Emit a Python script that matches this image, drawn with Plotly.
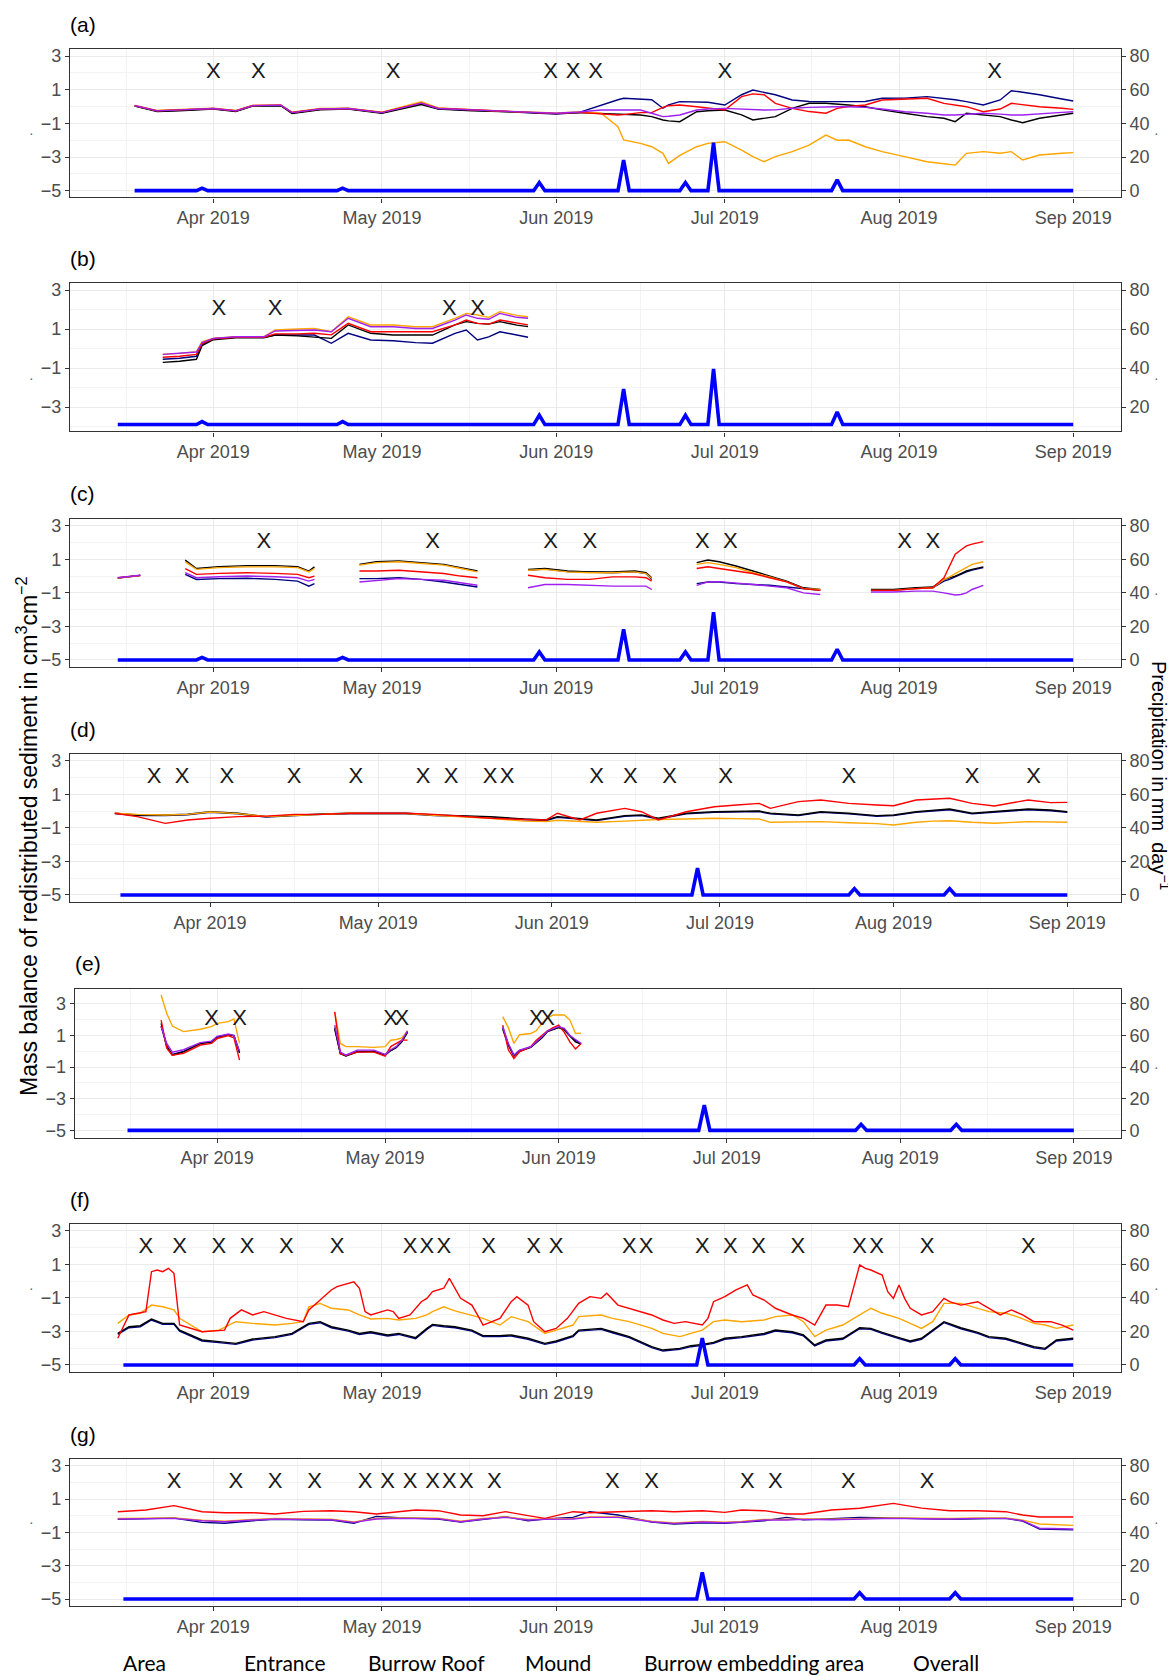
import plotly.graph_objects as go

# The page body adds an 8px margin, so the figure is drawn 8px in from the top-left.
OFF = 8
FW, FH = 1168, 1668
FONT = "Liberation Sans, Arial, Helvetica, sans-serif"
TICK_COL = "#4D4D4D"
BORDER = "#333333"
GRID = "#EBEBEB"
GRID_MINOR = "#F3F3F3"


def fx(px):
    return (px - OFF) / FW


def fy(py):
    return 1 - (py - OFF) / FH


# ---------------- categories / labels ----------------
legend_words = ["Area", "Entrance", "Burrow Roof", "Mound", "Burrow embedding area", "Overall"]
panel_labels = ["(a)", "(b)", "(c)", "(d)", "(e)", "(f)", "(g)"]
month_ticks = ["2019-04-01", "2019-05-01", "2019-06-01", "2019-07-01", "2019-08-01", "2019-09-01"]
month_labels = ["Apr 2019", "May 2019", "Jun 2019", "Jul 2019", "Aug 2019", "Sep 2019"]
month_minor = ["2019-03-16 12:00", "2019-04-16", "2019-05-16 12:00", "2019-06-16",
               "2019-07-16 12:00", "2019-08-16 12:00"]
sed_ticks = [-5, -3, -1, 1, 3]
sed_minor = [-4, -2, 0, 2]
prec_ticks = [0, 20, 40, 60, 80]
COLOR = {"black": "#000000", "orange": "#FFA500", "red": "#FF0000",
         "purple": "#A020F0", "navy": "#000080"}
DRAW_ORDER = ["navy", "black", "orange", "red", "purple"]
MARK_LEVEL = 2

# ---------------- precipitation (mm/day) ----------------
p1_dates = ["2019-03-15", "2019-03-29", "2019-03-30", "2019-03-31", "2019-04-23", "2019-04-24",
            "2019-04-25", "2019-05-28", "2019-05-29", "2019-05-30", "2019-06-12", "2019-06-13",
            "2019-06-14", "2019-06-23", "2019-06-24", "2019-06-25", "2019-06-28", "2019-06-29",
            "2019-06-30", "2019-07-20", "2019-07-21", "2019-07-22", "2019-09-01"]
p1_vals = [0, 0, 1.5, 0, 0, 1.5, 0, 0, 4.8, 0, 0, 18.2, 0, 0, 4.8, 0, 0, 28.5, 0, 0, 6.4, 0, 0]
P1_START_A = "2019-03-18"
p2_dates = ["2019-03-16", "2019-06-26", "2019-06-27", "2019-06-28", "2019-07-24", "2019-07-25",
            "2019-07-26", "2019-08-10", "2019-08-11", "2019-08-12", "2019-09-01"]
p2_vals = [0, 0, 16, 0, 0, 3.8, 0, 0, 3.8, 0, 0]

# ---------------- panel (a) ----------------
a_dates = ["2019-03-18", "2019-03-22", "2019-03-26", "2019-04-01", "2019-04-05", "2019-04-08",
           "2019-04-13", "2019-04-15", "2019-04-20", "2019-04-25", "2019-05-01", "2019-05-05",
           "2019-05-08", "2019-05-11", "2019-05-17", "2019-05-24", "2019-06-01", "2019-06-05",
           "2019-06-09", "2019-06-12", "2019-06-13", "2019-06-16", "2019-06-18", "2019-06-20",
           "2019-06-21", "2019-06-23", "2019-06-26", "2019-06-28", "2019-07-01", "2019-07-04",
           "2019-07-06", "2019-07-08", "2019-07-10", "2019-07-13", "2019-07-16", "2019-07-19",
           "2019-07-21", "2019-07-23", "2019-07-26", "2019-07-29", "2019-08-02", "2019-08-06",
           "2019-08-09", "2019-08-11", "2019-08-13", "2019-08-16", "2019-08-19", "2019-08-21",
           "2019-08-23", "2019-08-26", "2019-08-30", "2019-09-01"]
a_black = [0.02, -0.3, -0.25, -0.15, -0.3, 0.02, 0.05, -0.42, -0.2, -0.15, -0.4, -0.1, 0.12, -0.15,
           -0.25, -0.32, -0.42, -0.36,
           -0.4, -0.45, -0.45, -0.5, -0.6, -0.8, -0.85, -0.9, -0.31, -0.25, -0.21, -0.5, -0.8, -0.7,
           -0.6, -0.11, 0.19, 0.19, 0.12, 0.09, -0.01, -0.2, -0.4, -0.6, -0.7, -0.9, -0.4, -0.5, -0.6,
           -0.8, -0.96, -0.7, -0.5, -0.4]
a_orange = [0.05, -0.24, -0.18, -0.1, -0.24, 0.06, 0.1, -0.34, -0.12, -0.1, -0.34, 0.0, 0.28, -0.08,
            -0.2, -0.3, -0.38, -0.33,
            -0.4, -1.2, -1.99, -2.19, -2.39, -2.78, -3.38, -2.9, -2.39, -2.19, -2.09, -2.59, -2.98,
            -3.28, -2.98, -2.68, -2.29, -1.7, -2.0, -1.99, -2.39, -2.68, -2.98, -3.28, -3.4, -3.48,
            -2.78, -2.68, -2.78, -2.68, -3.18, -2.88, -2.78, -2.74]
a_red = [0.06, -0.25, -0.2, -0.12, -0.25, 0.06, 0.08, -0.35, -0.15, -0.12, -0.35, -0.05, 0.2, -0.1,
         -0.2, -0.32, -0.42, -0.35,
         -0.45, -0.5, -0.48, -0.36, -0.36, -0.05, 0.05, 0.09, -0.01, -0.1, -0.21, 0.59, 0.75, 0.7,
         0.19, -0.11, -0.3, -0.4, -0.11, 0.0, 0.09, 0.39, 0.45, 0.49, 0.19, 0.1, -0.01, -0.31, -0.15,
         0.19, 0.1, -0.01, -0.1, -0.17]
a_purple = [0.05, -0.26, -0.2, -0.12, -0.26, 0.05, 0.08, -0.36, -0.15, -0.12, -0.36, -0.05, 0.2,
            -0.12, -0.2, -0.3, -0.4, -0.33,
            -0.21, -0.21, -0.21, -0.21, -0.4, -0.6, -0.58, -0.5, -0.21, -0.15, -0.11, -0.15, -0.2,
            -0.21, -0.2, -0.1, -0.05, -0.01, -0.01, -0.01, -0.05, -0.15, -0.31, -0.4, -0.5, -0.5,
            -0.45, -0.4, -0.45, -0.5, -0.5, -0.42, -0.35, -0.31]
a_navy = [0.04, -0.27, -0.22, -0.13, -0.27, 0.04, 0.07, -0.38, -0.17, -0.13, -0.37, -0.06, 0.18,
          -0.13, -0.22, -0.33, -0.44, -0.36,
          0.1, 0.4, 0.49, 0.45, 0.4, -0.1, 0.1, 0.29, 0.29, 0.25, 0.09, 0.7, 0.98, 0.85, 0.7, 0.39,
          0.3, 0.29, 0.3, 0.29, 0.3, 0.49, 0.5, 0.59, 0.49, 0.4, 0.29, 0.09, 0.39, 0.94, 0.85, 0.7,
          0.45, 0.33]
a_marks = ["2019-04-01", "2019-04-09", "2019-05-03", "2019-05-31", "2019-06-04", "2019-06-08",
           "2019-07-01", "2019-08-18"]

# ---------------- panel (b) ----------------
b_dates = ["2019-03-23", "2019-03-26", "2019-03-29", "2019-03-30", "2019-04-01", "2019-04-05",
           "2019-04-10", "2019-04-12", "2019-04-16", "2019-04-19", "2019-04-22", "2019-04-25",
           "2019-04-29", "2019-05-03", "2019-05-07", "2019-05-10", "2019-05-14", "2019-05-16",
           "2019-05-18", "2019-05-20", "2019-05-22", "2019-05-25", "2019-05-27"]
b_orange = [-0.30, -0.25, -0.16, 0.35, 0.52, 0.61, 0.61, 0.95, 1.0, 1.03, 0.86, 1.63, 1.21, 1.21,
            1.12, 1.12, 1.55, 1.80, 1.72, 1.6, 1.89, 1.7, 1.63]
b_purple = [-0.30, -0.25, -0.18, 0.3, 0.52, 0.6, 0.6, 0.9, 0.95, 0.95, 0.86, 1.55, 1.12, 1.12, 1.03,
            1.03, 1.46, 1.72, 1.55, 1.5, 1.80, 1.6, 1.55]
b_red = [-0.45, -0.4, -0.3, 0.25, 0.5, 0.58, 0.58, 0.75, 0.75, 0.78, 0.7, 1.29, 0.86, 0.86, 0.86,
         0.86, 1.21, 1.46, 1.29, 1.25, 1.46, 1.3, 1.21]
b_black = [-0.71, -0.65, -0.55, 0.15, 0.45, 0.55, 0.55, 0.69, 0.65, 0.6, 0.52, 1.21, 0.78, 0.69,
           0.69, 0.69, 1.21, 1.38, 1.29, 1.25, 1.38, 1.2, 1.12]
b_navy = [-0.55, -0.5, -0.4, 0.2, 0.5, 0.58, 0.58, 0.69, 0.69, 0.69, 0.27, 0.78, 0.44, 0.40, 0.30,
          0.27, 0.78, 0.95, 0.44, 0.6, 0.86, 0.7, 0.58]
b_marks = ["2019-04-02", "2019-04-12", "2019-05-13", "2019-05-18"]
B_PRECIP_BASE = -3.9

# ---------------- panel (c) (gapped segments) ----------------
c_dates = [["2019-03-15", "2019-03-19"],
           ["2019-03-27", "2019-03-29", "2019-04-02", "2019-04-07", "2019-04-12", "2019-04-16",
            "2019-04-18", "2019-04-19"],
           ["2019-04-27", "2019-04-30", "2019-05-04", "2019-05-08", "2019-05-12", "2019-05-15",
            "2019-05-18"],
           ["2019-05-27", "2019-05-30", "2019-06-03", "2019-06-07", "2019-06-11", "2019-06-15",
            "2019-06-17", "2019-06-18"],
           ["2019-06-26", "2019-06-28", "2019-06-30", "2019-07-03", "2019-07-06", "2019-07-09",
            "2019-07-12", "2019-07-15", "2019-07-18"],
           ["2019-07-27", "2019-07-31", "2019-08-04", "2019-08-07", "2019-08-09", "2019-08-10",
            "2019-08-11", "2019-08-12", "2019-08-13", "2019-08-14", "2019-08-16"]]
c_black = [[-0.12, 0.03], [0.95, 0.45, 0.56, 0.62, 0.62, 0.56, 0.3, 0.55],
           [0.7, 0.85, 0.9, 0.8, 0.7, 0.5, 0.3], [0.4, 0.45, 0.3, 0.25, 0.25, 0.3, 0.2, -0.1],
           [0.8, 0.96, 0.85, 0.6, 0.3, 0.0, -0.3, -0.7, -0.8],
           [-0.8, -0.8, -0.7, -0.65, -0.2, -0.1, 0.0, 0.15, 0.3, 0.4, 0.55]]
c_orange = [[-0.12, 0.03], [0.85, 0.4, 0.5, 0.55, 0.55, 0.5, 0.25, 0.45],
            [0.65, 0.8, 0.85, 0.75, 0.65, 0.45, 0.25], [0.35, 0.4, 0.25, 0.2, 0.2, 0.25, 0.15, -0.15],
            [0.7, 0.8, 0.7, 0.5, 0.2, -0.05, -0.35, -0.75, -0.8],
            [-0.85, -0.85, -0.75, -0.7, -0.2, -0.05, 0.15, 0.35, 0.55, 0.7, 0.85]]
c_red = [[-0.1, 0.04], [0.45, 0.1, 0.16, 0.2, 0.16, 0.1, -0.1, 0.0],
         [0.3, 0.3, 0.35, 0.25, 0.15, 0.0, -0.1], [0.05, -0.1, -0.2, -0.2, -0.05, -0.05, -0.1, -0.3],
         [0.45, 0.55, 0.45, 0.3, 0.15, -0.1, -0.35, -0.75, -0.85],
         [-0.85, -0.85, -0.75, -0.7, -0.1, 0.6, 1.3, 1.55, 1.8, 1.9, 2.05]]
c_purple = [[-0.1, 0.05], [0.2, -0.1, -0.04, 0.0, -0.04, -0.1, -0.3, -0.2],
            [-0.35, -0.25, -0.15, -0.2, -0.25, -0.4, -0.55],
            [-0.7, -0.5, -0.5, -0.55, -0.6, -0.6, -0.6, -0.8],
            [-0.55, -0.35, -0.33, -0.4, -0.5, -0.6, -0.7, -1.0, -1.1],
            [-0.95, -0.95, -0.9, -0.9, -1.0, -1.05, -1.13, -1.1, -1.0, -0.8, -0.55]]
c_navy = [[-0.11, 0.04], [0.1, -0.2, -0.15, -0.13, -0.2, -0.3, -0.6, -0.45],
          [-0.15, -0.15, -0.1, -0.2, -0.35, -0.5, -0.65],
          [0.35, 0.42, 0.27, 0.22, 0.2, 0.25, 0.15, -0.2],
          [-0.45, -0.35, -0.35, -0.45, -0.5, -0.55, -0.65, -0.75, -0.85],
          [-0.85, -0.85, -0.75, -0.7, -0.3, -0.2, -0.05, 0.1, 0.25, 0.35, 0.5]]
c_marks = ["2019-04-10", "2019-05-10", "2019-05-31", "2019-06-07", "2019-06-27", "2019-07-02",
           "2019-08-02", "2019-08-07"]

# ---------------- panel (d) ----------------
d_dates = ["2019-03-15", "2019-03-19", "2019-03-24", "2019-03-28", "2019-04-01", "2019-04-06",
           "2019-04-11", "2019-04-16", "2019-04-21", "2019-04-26", "2019-05-01", "2019-05-06",
           "2019-05-11", "2019-05-16", "2019-05-21", "2019-05-27", "2019-05-31", "2019-06-02",
           "2019-06-06", "2019-06-09", "2019-06-14", "2019-06-17", "2019-06-20", "2019-06-25",
           "2019-06-30", "2019-07-04", "2019-07-08", "2019-07-10", "2019-07-15", "2019-07-19",
           "2019-07-24", "2019-07-29", "2019-08-01", "2019-08-05", "2019-08-08", "2019-08-11",
           "2019-08-15", "2019-08-19", "2019-08-25", "2019-08-29", "2019-09-01"]
d_black = [-0.13, -0.23, -0.23, -0.19, -0.04, -0.13, -0.33, -0.23, -0.17, -0.13, -0.13, -0.13,
           -0.23, -0.27, -0.33, -0.47, -0.53, -0.33, -0.47, -0.53, -0.27, -0.23, -0.43, -0.13,
           -0.04, 0.0, 0.0, -0.13, -0.23, -0.04, -0.13, -0.27, -0.23, -0.04, 0.06, 0.12, -0.13,
           -0.04, 0.12, 0.06, -0.04]
d_navy = [-0.15, -0.26, -0.27, -0.22, -0.08, -0.17, -0.36, -0.27, -0.2, -0.17, -0.16, -0.17, -0.26,
          -0.31, -0.37, -0.5, -0.57, -0.37, -0.5, -0.57, -0.31, -0.27, -0.47, -0.17, -0.08, -0.04,
          -0.03, -0.17, -0.27, -0.08, -0.17, -0.31, -0.27, -0.08, 0.02, 0.08, -0.17, -0.08, 0.08,
          0.02, -0.08]
d_red = [-0.13, -0.33, -0.73, -0.53, -0.43, -0.33, -0.3, -0.2, -0.2, -0.13, -0.13, -0.13, -0.2,
         -0.3, -0.43, -0.5, -0.53, -0.13, -0.53, -0.13, 0.16, -0.04, -0.53, -0.04, 0.26, 0.36, 0.46,
         0.16, 0.56, 0.66, 0.46, 0.36, 0.32, 0.66, 0.7, 0.76, 0.46, 0.3, 0.66, 0.5, 0.52]
d_orange = [-0.13, -0.2, -0.23, -0.2, -0.06, -0.15, -0.33, -0.25, -0.18, -0.13, -0.15, -0.15, -0.25,
            -0.35, -0.43, -0.6, -0.63, -0.55, -0.63, -0.67, -0.6, -0.55, -0.5, -0.47, -0.43, -0.45,
            -0.47, -0.67, -0.63, -0.63, -0.7, -0.75, -0.83, -0.67, -0.6, -0.58, -0.67, -0.73, -0.63,
            -0.65, -0.67]
d_marks = ["2019-03-22", "2019-03-27", "2019-04-04", "2019-04-16", "2019-04-27", "2019-05-09",
           "2019-05-14", "2019-05-21", "2019-05-24", "2019-06-09", "2019-06-15", "2019-06-22",
           "2019-07-02", "2019-07-24", "2019-08-15", "2019-08-26"]

# ---------------- panel (e) (gapped segments) ----------------
e_dates = [["2019-03-22", "2019-03-23", "2019-03-24", "2019-03-26", "2019-03-29", "2019-03-31",
            "2019-04-01", "2019-04-03", "2019-04-04", "2019-04-05"],
           ["2019-04-22", "2019-04-23", "2019-04-24", "2019-04-26", "2019-04-29", "2019-05-01",
            "2019-05-02", "2019-05-03", "2019-05-04", "2019-05-05"],
           ["2019-05-22", "2019-05-23", "2019-05-24", "2019-05-25", "2019-05-27", "2019-05-28",
            "2019-05-29", "2019-05-30", "2019-05-31", "2019-06-01", "2019-06-02", "2019-06-03",
            "2019-06-04", "2019-06-05"]]
e_orange = [[3.56, 2.4, 1.6, 1.25, 1.4, 1.56, 1.77, 1.88, 2.05, 0.5],
            [2.5, 0.5, 0.3, 0.3, 0.25, 0.3, 0.7, 0.75, 0.85, 1.3],
            [2.2, 1.5, 0.5, 1.05, 1.13, 1.3, 1.77, 2.1, 2.3, 2.3, 2.3, 1.98, 1.13, 1.15]]
e_purple = [[1.55, 0.5, -0.05, 0.1, 0.55, 0.65, 0.95, 1.1, 1.0, 0.0],
            [1.66, -0.05, -0.24, 0.08, 0.08, -0.2, 0.1, 0.3, 0.7, 1.3],
            [1.56, 0.5, -0.24, 0.08, 0.29, 0.6, 0.92, 1.3, 1.45, 1.56, 1.45, 1.0, 0.75, 0.5]]
e_black = [[1.77, 0.29, -0.24, -0.03, 0.5, 0.6, 0.92, 1.05, 1.0, -0.1],
           [1.4, -0.15, -0.3, -0.05, 0.0, -0.25, 0.05, 0.25, 0.6, 1.2],
           [1.4, 0.4, -0.3, 0.0, 0.25, 0.55, 0.85, 1.25, 1.4, 1.5, 1.35, 0.95, 0.6, 0.45]]
e_red = [[1.98, 0.2, -0.24, -0.13, 0.4, 0.5, 0.8, 1.0, 0.85, -0.56],
         [2.5, -0.15, -0.25, -0.05, -0.05, -0.3, 0.3, 0.5, 0.71, 0.71],
         [1.66, 0.1, -0.45, -0.03, 0.29, 0.7, 1.0, 1.3, 1.5, 1.66, 1.2, 0.6, 0.15, 0.5]]
e_navy = [[1.6, 0.35, -0.2, 0.0, 0.5, 0.6, 0.9, 1.05, 1.0, -0.05],
          [1.5, -0.1, -0.28, 0.0, 0.0, -0.22, 0.05, 0.25, 0.65, 1.25],
          [1.5, 0.45, -0.26, 0.05, 0.27, 0.58, 0.9, 1.28, 1.43, 1.53, 1.4, 0.98, 0.7, 0.48]]
e_marks = ["2019-03-31", "2019-04-05", "2019-05-02", "2019-05-04", "2019-05-28", "2019-05-30"]

# ---------------- panel (f) ----------------
f_red_dates = ["2019-03-15", "2019-03-17", "2019-03-20", "2019-03-21", "2019-03-22", "2019-03-23",
               "2019-03-24", "2019-03-25", "2019-03-26", "2019-03-28", "2019-03-30", "2019-04-03",
               "2019-04-04", "2019-04-06", "2019-04-08", "2019-04-10", "2019-04-12", "2019-04-14",
               "2019-04-17", "2019-04-18", "2019-04-20", "2019-04-22", "2019-04-23", "2019-04-26",
               "2019-04-27", "2019-04-28", "2019-04-29", "2019-05-02", "2019-05-03", "2019-05-04",
               "2019-05-06", "2019-05-08", "2019-05-09", "2019-05-10", "2019-05-12", "2019-05-13",
               "2019-05-15", "2019-05-17", "2019-05-18", "2019-05-19", "2019-05-22", "2019-05-24",
               "2019-05-25", "2019-05-27", "2019-05-28", "2019-05-30", "2019-06-01", "2019-06-03",
               "2019-06-05", "2019-06-07", "2019-06-09", "2019-06-10", "2019-06-12", "2019-06-14",
               "2019-06-16", "2019-06-18", "2019-06-20", "2019-06-22", "2019-06-24", "2019-06-27",
               "2019-06-28", "2019-06-29", "2019-07-01", "2019-07-03", "2019-07-05", "2019-07-06",
               "2019-07-08", "2019-07-10", "2019-07-13", "2019-07-15", "2019-07-17", "2019-07-19",
               "2019-07-21", "2019-07-23", "2019-07-25", "2019-07-26", "2019-07-27", "2019-07-29",
               "2019-07-30", "2019-07-31", "2019-08-01", "2019-08-02", "2019-08-03", "2019-08-05",
               "2019-08-07", "2019-08-09", "2019-08-10", "2019-08-12", "2019-08-15", "2019-08-17",
               "2019-08-19", "2019-08-21", "2019-08-23", "2019-08-25", "2019-08-28", "2019-08-30",
               "2019-09-01"]
f_red = [-3.41, -2.02, -1.82, 0.56, 0.66, 0.56, 0.76, 0.46, -2.62, -2.82, -3.02, -2.92,
         -2.22, -1.72, -2.02, -1.82, -2.02, -2.22, -2.42, -1.72, -1.13, -0.53, -0.33, -0.04,
         -0.43, -1.82, -2.02, -1.72, -1.82, -2.22, -2.02, -1.23, -1.03, -0.63, -0.43, 0.16,
         -1.03, -1.43, -2.02, -2.62, -2.22, -1.23, -0.93, -1.43, -2.42, -3.02, -2.82, -2.22,
         -1.33, -0.93, -1.03, -0.73, -1.43, -1.62, -1.82, -2.02, -2.32, -2.52, -2.42, -2.62,
         -2.22, -1.23, -0.93, -0.53, -0.23, -0.83, -1.13, -1.62, -2.02, -2.22, -2.62, -1.43,
         -1.43, -1.53, 0.96, 0.76, 0.66, 0.36, -0.63, -1.03, -0.23, -1.03, -1.62, -2.02,
         -1.82, -1.03, -1.23, -1.43, -1.23, -1.62, -2.02, -1.72, -2.02, -2.42, -2.42, -2.62,
         -2.92]
f_dates = ["2019-03-15", "2019-03-17", "2019-03-19", "2019-03-21", "2019-03-23", "2019-03-25",
           "2019-03-26", "2019-03-30", "2019-04-02", "2019-04-05", "2019-04-08", "2019-04-12",
           "2019-04-15", "2019-04-17", "2019-04-18", "2019-04-20", "2019-04-22", "2019-04-25",
           "2019-04-27", "2019-04-29", "2019-05-02", "2019-05-04", "2019-05-07", "2019-05-09",
           "2019-05-10", "2019-05-12", "2019-05-14", "2019-05-17", "2019-05-19", "2019-05-22",
           "2019-05-24", "2019-05-27", "2019-05-30", "2019-06-01", "2019-06-04", "2019-06-05",
           "2019-06-09", "2019-06-11", "2019-06-14", "2019-06-18", "2019-06-20", "2019-06-23",
           "2019-06-25", "2019-06-27", "2019-06-29", "2019-07-01", "2019-07-04", "2019-07-08",
           "2019-07-10", "2019-07-13", "2019-07-15", "2019-07-17", "2019-07-19", "2019-07-22",
           "2019-07-25", "2019-07-27", "2019-07-29", "2019-08-01", "2019-08-03", "2019-08-05",
           "2019-08-07", "2019-08-09", "2019-08-12", "2019-08-15", "2019-08-17", "2019-08-20",
           "2019-08-22", "2019-08-25", "2019-08-27", "2019-08-29", "2019-09-01"]
f_orange = [-2.52, -2.02, -1.92, -1.43, -1.53, -1.72, -2.22, -3.02,
            -2.92, -2.42, -2.52, -2.62, -2.52, -2.42, -1.53, -1.33, -1.62, -1.72, -2.02, -2.26,
            -2.22, -2.32, -2.22, -2.02, -1.82, -1.53, -1.78, -2.02, -2.22, -2.62, -2.12, -2.42,
            -3.12,
            -2.92, -2.62, -2.12, -2.02, -2.22, -2.42, -2.82, -3.12, -3.31, -3.12, -2.92, -2.42,
            -2.32, -2.42, -2.32, -2.12, -2.02, -2.42, -3.31, -2.92, -2.62, -2.02, -1.62, -1.92,
            -2.22, -2.52, -2.82, -2.42, -1.33, -1.33, -1.62, -1.82, -1.92, -2.12, -2.52, -2.62,
            -2.82,
            -2.62]
f_black = [-3.12, -2.72, -2.66, -2.26, -2.52, -2.52, -2.92, -3.51,
           -3.61, -3.71, -3.45, -3.31, -3.12, -2.72, -2.52, -2.42, -2.72, -2.92, -3.12, -3.02,
           -3.21, -3.12, -3.37, -2.82, -2.58, -2.66, -2.72, -2.92, -3.25, -3.25, -3.21, -3.41,
           -3.71,
           -3.57, -3.25, -2.92, -2.82, -3.02, -3.31, -3.91, -4.11, -4.01, -3.85, -3.77, -3.65,
           -3.41, -3.31, -3.12, -2.92, -3.02, -3.21, -3.81, -3.51, -3.41, -2.78, -2.82, -3.06,
           -3.37, -3.57, -3.41, -2.92, -2.42, -2.78, -3.06, -3.31, -3.41, -3.61, -3.91, -4.01,
           -3.51,
           -3.41]
f_navy = [-3.18, -2.78, -2.72, -2.32, -2.58, -2.58, -2.98, -3.57,
          -3.67, -3.77, -3.51, -3.37, -3.18, -2.78, -2.58, -2.48, -2.78, -2.98, -3.18, -3.08,
          -3.27, -3.18, -3.43, -2.88, -2.64, -2.72, -2.78, -2.98, -3.31, -3.31, -3.27, -3.47,
          -3.77,
          -3.63, -3.31, -2.98, -2.88, -3.08, -3.37, -3.97, -4.17, -4.07, -3.91, -3.83, -3.71,
          -3.47, -3.37, -3.18, -2.98, -3.08, -3.27, -3.87, -3.57, -3.47, -2.84, -2.88, -3.12,
          -3.43, -3.63, -3.47, -2.98, -2.48, -2.84, -3.12, -3.37, -3.47, -3.67, -3.97, -4.07,
          -3.57,
          -3.47]
f_marks = ["2019-03-20", "2019-03-26", "2019-04-02", "2019-04-07", "2019-04-14", "2019-04-23",
           "2019-05-06", "2019-05-09", "2019-05-12", "2019-05-20", "2019-05-28", "2019-06-01",
           "2019-06-14", "2019-06-17", "2019-06-27", "2019-07-02", "2019-07-07", "2019-07-14",
           "2019-07-25", "2019-07-28", "2019-08-06", "2019-08-24"]

# ---------------- panel (g) ----------------
g_dates = ["2019-03-15", "2019-03-20", "2019-03-25", "2019-03-30", "2019-04-03", "2019-04-08",
           "2019-04-12", "2019-04-17", "2019-04-22", "2019-04-26", "2019-04-30", "2019-05-04",
           "2019-05-07", "2019-05-11", "2019-05-15", "2019-05-19", "2019-05-23", "2019-05-27",
           "2019-05-30", "2019-06-04", "2019-06-07", "2019-06-12", "2019-06-18", "2019-06-22",
           "2019-06-27", "2019-07-01", "2019-07-04", "2019-07-08", "2019-07-12", "2019-07-15",
           "2019-07-20", "2019-07-25", "2019-07-31", "2019-08-05", "2019-08-10", "2019-08-15",
           "2019-08-20", "2019-08-23", "2019-08-26", "2019-09-01"]
g_red = [0.24, 0.34, 0.6, 0.24, 0.18, 0.18, 0.1, 0.26, 0.3, 0.24, 0.1, 0.26, 0.34, 0.3, 0.04, 0.0,
         0.24, 0.0, -0.16, 0.24, 0.18, 0.24, 0.3, 0.24, 0.3, 0.2, 0.34, 0.3, 0.1, 0.1, 0.34, 0.45,
         0.74, 0.45, 0.3, 0.3, 0.24, 0.04, -0.08, -0.08]
g_purple = [-0.2, -0.18, -0.16, -0.3, -0.36, -0.26, -0.2, -0.22, -0.24, -0.4, -0.2, -0.16, -0.16,
            -0.18, -0.36, -0.2, -0.1, -0.26, -0.22, -0.2, -0.1, -0.1, -0.36, -0.46, -0.38, -0.42,
            -0.38, -0.26, -0.26, -0.22, -0.24, -0.2, -0.16, -0.18, -0.2, -0.16, -0.16, -0.3,
            -0.75, -0.8]
g_orange = [-0.17, -0.15, -0.13, -0.27, -0.33, -0.23, -0.17, -0.19, -0.21, -0.37, -0.17, -0.13,
            -0.13, -0.15, -0.33, -0.17, -0.07, -0.23, -0.19, -0.17, -0.07, -0.07, -0.33, -0.43,
            -0.35, -0.39, -0.35, -0.23, -0.23, -0.19, -0.21, -0.17, -0.13, -0.15, -0.17, -0.13,
            -0.13, -0.27, -0.5, -0.58]
g_navy = [-0.22, -0.2, -0.14, -0.4, -0.45, -0.3, -0.22, -0.24, -0.26, -0.45, -0.04, -0.12, -0.16,
          -0.2, -0.38, -0.22, -0.06, -0.3, -0.2, -0.1, 0.24, 0.04, -0.38, -0.5, -0.42, -0.46, -0.4,
          -0.3, -0.1, -0.24, -0.18, -0.1, -0.14, -0.2, -0.22, -0.18, -0.16, -0.32, -0.8, -0.85]
g_marks = ["2019-03-25", "2019-04-05", "2019-04-12", "2019-04-19", "2019-04-28", "2019-05-02",
           "2019-05-06", "2019-05-10", "2019-05-13", "2019-05-16", "2019-05-21", "2019-06-11",
           "2019-06-18", "2019-07-05", "2019-07-10", "2019-07-23", "2019-08-06"]


def join_segments(date_segs, val_segs):
    xs, ys = [], []
    for k, (d, v) in enumerate(zip(date_segs, val_segs)):
        if k:
            xs.append(None)
            ys.append(None)
        xs += d
        ys += v
    return xs, ys


pa_x = [P1_START_A] + [d for d in p1_dates if d > P1_START_A]
pa_y = [0.0] + [v for d, v in zip(p1_dates, p1_vals) if d > P1_START_A]

XR_STD = ["2019-03-06 12:00", "2019-09-09 12:00"]
panels = [
    dict(top=49.3, bottom=197.4, left=70, xr=XR_STD, yr=[-5.4, 3.4], base=-5,
         series={"black": (a_dates, a_black), "orange": (a_dates, a_orange), "red": (a_dates, a_red),
                 "purple": (a_dates, a_purple), "navy": (a_dates, a_navy)},
         marks=a_marks, precip=(pa_x, pa_y), ldot=True, rdot=True),
    dict(top=283.2, bottom=431.4, left=70, xr=XR_STD, yr=[-4.25, 3.35], base=B_PRECIP_BASE,
         series={"black": (b_dates, b_black), "orange": (b_dates, b_orange), "red": (b_dates, b_red),
                 "purple": (b_dates, b_purple), "navy": (b_dates, b_navy)},
         marks=b_marks, precip=(p1_dates, p1_vals), ldot=True, rdot=True),
    dict(top=519.0, bottom=666.7, left=70, xr=XR_STD, yr=[-5.4, 3.4], base=-5,
         series={k: join_segments(c_dates, v) for k, v in
                 {"black": c_black, "orange": c_orange, "red": c_red,
                  "purple": c_purple, "navy": c_navy}.items()},
         marks=c_marks, precip=(p1_dates, p1_vals), ldot=False, rdot=True),
    dict(top=754.0, bottom=901.7, left=70, xr=["2019-03-07 00:00", "2019-09-10 14:00"],
         yr=[-5.4, 3.4], base=-5,
         series={"black": (d_dates, d_black), "orange": (d_dates, d_orange), "red": (d_dates, d_red),
                 "navy": (d_dates, d_navy)},
         marks=d_marks, precip=(p2_dates, p2_vals), ldot=False, rdot=False),
    dict(top=988.9, bottom=1137.5, left=74.8, xr=["2019-03-06 14:00", "2019-09-09 10:00"],
         yr=[-5.45, 3.95], base=-5,
         series={k: join_segments(e_dates, v) for k, v in
                 {"black": e_black, "orange": e_orange, "red": e_red,
                  "purple": e_purple, "navy": e_navy}.items()},
         marks=e_marks, precip=(p2_dates, p2_vals), ldot=False, rdot=True),
    dict(top=1224.0, bottom=1371.7, left=70, xr=XR_STD, yr=[-5.4, 3.4], base=-5,
         series={"black": (f_dates, f_black), "orange": (f_dates, f_orange),
                 "red": (f_red_dates, f_red), "navy": (f_dates, f_navy)},
         marks=f_marks, precip=(p2_dates, p2_vals), ldot=True, rdot=True),
    dict(top=1459.0, bottom=1605.7, left=70, xr=XR_STD, yr=[-5.4, 3.4], base=-5,
         series={"orange": (g_dates, g_orange), "red": (g_dates, g_red),
                 "purple": (g_dates, g_purple), "navy": (g_dates, g_navy)},
         marks=g_marks, precip=(p2_dates, p2_vals), ldot=True, rdot=True),
]
RIGHT = 1121

fig = go.Figure()
layout = {}
annotations = []


def ax_name(kind, n):
    return kind if n == 1 else f"{kind}{n}"


def lay_name(kind, n):
    return f"{kind}axis" if n == 1 else f"{kind}axis{n}"


tick_font = dict(family=FONT, size=18, color=TICK_COL)

for i, p in enumerate(panels):
    xn, yl, yr_, yp = i + 1, 3 * i + 1, 3 * i + 2, 3 * i + 3
    xref, ylref, yrref, ypref = ax_name("x", xn), ax_name("y", yl), ax_name("y", yr_), ax_name("y", yp)
    y0, y1 = p["yr"]
    ydom = [fy(p["bottom"]), fy(p["top"])]
    xdom = [fx(p["left"]), fx(RIGHT)]

    lt = [t for t in sed_ticks if y0 <= t <= y1]
    layout[lay_name("x", xn)] = dict(
        domain=xdom, anchor=ylref, type="date", range=p["xr"],
        tickmode="array", tickvals=month_ticks, ticktext=month_labels, tickfont=tick_font,
        showgrid=True, gridcolor=GRID, gridwidth=1.1,
        minor=dict(tickmode="array", tickvals=month_minor, showgrid=True,
                   gridcolor=GRID_MINOR, gridwidth=0.7, ticks=""),
        showline=True, mirror=True, linecolor=BORDER, linewidth=1.4,
        ticks="outside", ticklen=4, tickwidth=1.1, tickcolor=BORDER,
        zeroline=False, automargin=False, fixedrange=True)
    layout[lay_name("y", yl)] = dict(
        domain=ydom, anchor=xref, range=[y0, y1],
        tickmode="array", tickvals=lt, ticktext=[str(t).replace("-", "\u2212") for t in lt],
        tickfont=tick_font, showgrid=True, gridcolor=GRID, gridwidth=1.1,
        minor=dict(tickmode="array", tickvals=sed_minor, showgrid=True,
                   gridcolor=GRID_MINOR, gridwidth=0.7, ticks=""),
        showline=True, mirror=True, linecolor=BORDER, linewidth=1.4,
        ticks="outside", ticklen=4, tickwidth=1.1, tickcolor=BORDER,
        zeroline=False, automargin=False, fixedrange=True)
    r0, r1 = 10 * (y0 + 5), 10 * (y1 + 5)
    rt = [t for t in prec_ticks if r0 <= t <= r1]
    layout[lay_name("y", yr_)] = dict(
        overlaying=ylref, side="right", anchor=xref, range=[r0, r1],
        tickmode="array", tickvals=rt, ticktext=[str(t) for t in rt], tickfont=tick_font,
        showgrid=False, showline=False, ticks="outside", ticklen=4, tickwidth=1.1,
        tickcolor=BORDER, zeroline=False, automargin=False, fixedrange=True)
    layout[lay_name("y", yp)] = dict(
        overlaying=ylref, anchor=xref, visible=False,
        range=[10 * (y0 - p["base"]), 10 * (y1 - p["base"])],
        showgrid=False, zeroline=False, fixedrange=True)

    # sediment series
    for col in DRAW_ORDER:
        if col not in p["series"]:
            continue
        xs, ys = p["series"][col]
        fig.add_trace(go.Scatter(x=xs, y=ys, mode="lines", xaxis=xref, yaxis=ylref,
                                 line=dict(color=COLOR[col], width=1.4), connectgaps=False,
                                 showlegend=False, hoverinfo="skip"))
    # precipitation (an invisible copy keeps the right-hand axis registered)
    px_, py_ = p["precip"]
    fig.add_trace(go.Scatter(x=px_, y=py_, mode="lines", xaxis=xref, yaxis=yrref,
                             line=dict(width=0, color="rgba(0,0,0,0)"), opacity=0,
                             showlegend=False, hoverinfo="skip"))
    fig.add_trace(go.Scatter(x=px_, y=py_, mode="lines", xaxis=xref, yaxis=ypref,
                             line=dict(color="#0000FF", width=3.6), showlegend=False,
                             hoverinfo="skip"))
    # X markers
    fig.add_trace(go.Scatter(x=p["marks"], y=[MARK_LEVEL] * len(p["marks"]), mode="text",
                             text=["X"] * len(p["marks"]), textposition="middle center",
                             textfont=dict(family=FONT, size=22, color="#1A1A1A"),
                             xaxis=xref, yaxis=ylref, showlegend=False, hoverinfo="skip"))

    # panel label
    annotations.append(dict(text=panel_labels[i], xref="paper", yref="paper",
                            x=fx(p["left"] - 2), y=fy(p["top"] - 25),
                            xanchor="left", yanchor="middle", showarrow=False,
                            font=dict(family=FONT, size=21, color="#000000")))
    # small stray dots at the height of the -1 / 40 labels
    ypix = p["top"] + (y1 - (-1)) / (y1 - y0) * (p["bottom"] - p["top"])
    if p["ldot"]:
        annotations.append(dict(text="\u00b7", xref="paper", yref="paper", x=fx(27),
                                y=fy(ypix), showarrow=False,
                                font=dict(family=FONT, size=14, color="#666666")))
    if p["rdot"]:
        annotations.append(dict(text="\u00b7", xref="paper", yref="paper", x=fx(1161),
                                y=fy(ypix), showarrow=False,
                                font=dict(family=FONT, size=14, color="#666666")))

# axis titles
annotations.append(dict(text="Mass balance of redistributed sediment in cm<sup>3</sup>cm<sup>\u22122</sup>",
                        xref="paper", yref="paper", x=fx(27), y=fy(836), textangle=-90,
                        showarrow=False, xanchor="center", yanchor="middle",
                        font=dict(family=FONT, size=23, color="#000000")))
annotations.append(dict(text="Precipitation in mm  day<sup>\u22121</sup>",
                        xref="paper", yref="paper", x=fx(1161), y=fy(776), textangle=90,
                        showarrow=False, xanchor="center", yanchor="middle",
                        font=dict(family=FONT, size=20, color="#000000")))

# legend words (text only)
legend_x = [121, 242, 366, 523, 642, 911]
for word, lx in zip(legend_words, legend_x):
    annotations.append(dict(text=word, xref="paper", yref="paper", x=fx(lx), y=fy(1662),
                            xanchor="left", yanchor="middle", showarrow=False,
                            font=dict(family="Lato, Open Sans, sans-serif", size=21,
                                      color="#000000")))

fig.update_layout(
    width=FW, height=FH, margin=dict(l=0, r=0, t=0, b=0),
    paper_bgcolor="white", plot_bgcolor="white", template="none",
    font=dict(family=FONT, size=16, color="#000000"), showlegend=False,
    annotations=annotations, **layout)

fig.write_html("out.html")
